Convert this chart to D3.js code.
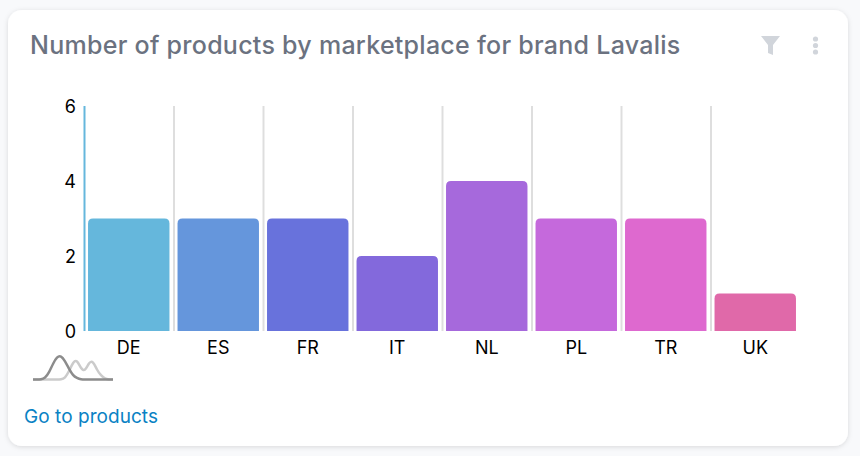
<!DOCTYPE html>
<html>
<head>
<meta charset="utf-8">
<script src="https://cdn.jsdelivr.net/npm/d3@7"></script>
<style>
html,body{margin:0;padding:0;background:#f8f9fb;overflow:hidden}
text{font-family:Inter,"Liberation Sans",sans-serif}
</style>
</head>
<body>
<div id="chart"></div>
<script>
var categories=["DE","ES","FR","IT","NL","PL","TR","UK"];
var productCounts=[3,3,3,2,4,3,3,1];
var barColors=["#65b7dc","#6596dc","#6872dc","#8369dc","#a669dc","#c569dc","#de69cf","#e069a9"];
var yTicks=[0,2,4,6];
// little brush preview under the axis
var previewX=[0,2,4,6,8,10,12,14,16,18,20,22,24,26,28,30,32,34,36,38,40];
var previewDark=[0,0,0,1,5,12,17,18,14,8,3,1,0,0,0,0,0,0,0,0,0];
var previewLight=[0,0,0,0,0,0,0,0,1,6,13,15,8,6,13,14,7,3,0.5,0,0];

var width=860,height=456;
var svg=d3.select("#chart").append("svg").attr("width",width).attr("height",height);

var shadow=svg.append("defs").append("filter").attr("id","cardShadow")
  .attr("x","-5%").attr("y","-5%").attr("width","110%").attr("height","110%");
shadow.append("feDropShadow").attr("dx",0).attr("dy",1).attr("stdDeviation",2.5)
  .attr("flood-color","#000").attr("flood-opacity",0.13);

svg.append("rect").attr("x",8).attr("y",10).attr("width",840).attr("height",436)
  .attr("rx",14).attr("fill","#fff").attr("filter","url(#cardShadow)");

svg.append("text").attr("x",30).attr("y",54).attr("font-size",25).attr("font-weight",500)
  .attr("letter-spacing",0.27).attr("fill","#6b7280").text("Number of products by marketplace for brand Lavalis");

// filter icon + menu dots
svg.append("path").attr("d","M761 36H780L773 45V55L768 53V45Z").attr("fill","#d1d5db");
svg.selectAll(".dot").data([39,45.5,52]).enter().append("circle").attr("class","dot")
  .attr("cx",815.5).attr("cy",function(d){return d}).attr("r",2.6).attr("fill","#d1d5db");

var x=d3.scaleBand().domain(categories).range([84,800]).paddingInner(0.09).paddingOuter(0.045);
var y=d3.scaleLinear().domain([0,6]).range([331,106]);

// separators between the bands
svg.selectAll(".sep").data(categories.slice(1)).enter().append("line").attr("class","sep")
  .attr("x1",function(d){return x(d)-x.step()*0.045+0.5}).attr("x2",function(d){return x(d)-x.step()*0.045+0.5})
  .attr("y1",y(6)).attr("y2",y(0)).attr("stroke","#dedede").attr("stroke-width",2);
svg.append("line").attr("x1",84.5).attr("x2",84.5).attr("y1",y(6)).attr("y2",y(0))
  .attr("stroke","#65b7dc").attr("stroke-width",2);

svg.selectAll(".bar").data(productCounts).enter().append("path").attr("class","bar")
  .attr("fill",function(d,i){return barColors[i]})
  .attr("d",function(d,i){
    var x0=x(categories[i]),x1=x0+x.bandwidth(),y0=y(d),y1=y(0),r=5;
    return "M"+x0+","+y1+"V"+(y0+r)+"Q"+x0+","+y0+" "+(x0+r)+","+y0+"H"+(x1-r)+"Q"+x1+","+y0+" "+x1+","+(y0+r)+"V"+y1+"Z";
  });

var yAxis=svg.append("g").attr("transform","translate(84,0.7)")
  .call(d3.axisLeft(y).tickValues(yTicks).tickFormat(d3.format("d")).tickSize(0).tickPadding(8));
yAxis.select(".domain").remove();
yAxis.selectAll("text").attr("font-size",18).attr("fill","#000").style("font-family","Inter,sans-serif");

var xAxis=svg.append("g").attr("transform","translate(0,336.5)")
  .call(d3.axisBottom(x).tickSize(0).tickPadding(0));
xAxis.select(".domain").remove();
xAxis.selectAll("text").attr("font-size",18).attr("fill","#000").attr("dy","0.95em").style("font-family","Inter,sans-serif");

var px=d3.scaleLinear().domain([0,40]).range([33,113]);
var py=d3.scaleLinear().domain([0,15]).range([379.5,359.5]);
var previewLine=d3.line().x(function(d,i){return px(previewX[i])}).y(function(d){return py(d)}).curve(d3.curveBasis);
svg.append("path").attr("d",previewLine(previewLight)).attr("fill","none").attr("stroke","#cbcbcb").attr("stroke-width",2.5);
svg.append("path").attr("d",previewLine(previewDark)).attr("fill","none").attr("stroke","#8c8c8c").attr("stroke-width",2.5);

svg.append("text").attr("x",24).attr("y",423).attr("font-size",19).attr("letter-spacing",0.05).attr("fill","#0a82c4").text("Go to products");
</script>
</body>
</html>
